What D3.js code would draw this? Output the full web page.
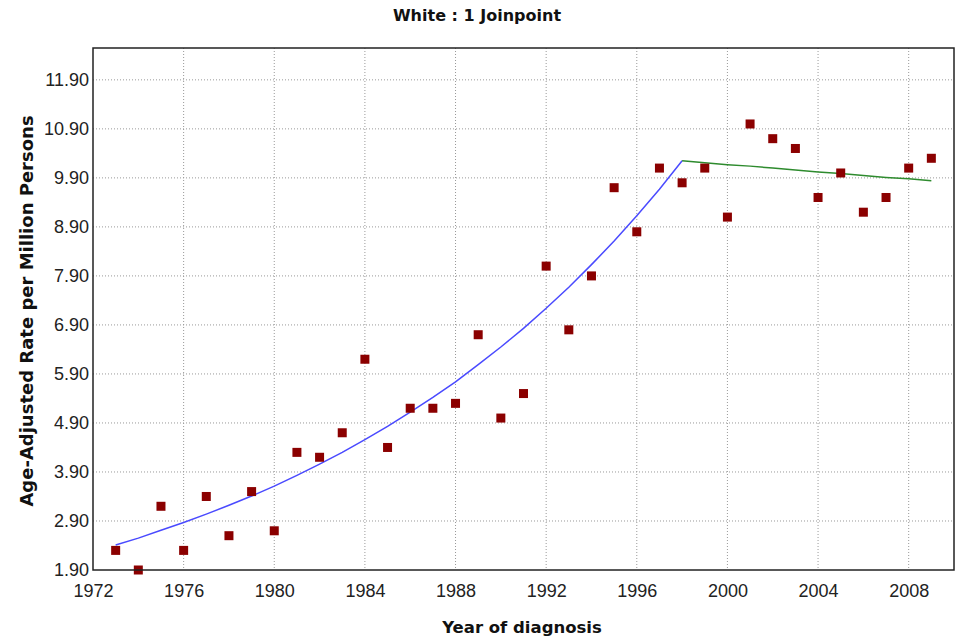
<!DOCTYPE html>
<html>
<head>
<meta charset="utf-8">
<script src="https://cdn.jsdelivr.net/npm/d3@7"></script>
<style>
	body { margin: 0; background: #fff; }
	.tick text { font-family: "Liberation Sans Narrow", "Arial Narrow", "Liberation Sans", sans-serif; font-size: 18px; fill: #222; }
	.ttl { font-family: "DejaVu Sans", Verdana, sans-serif; font-weight: bold; fill: #111; }
</style>
</head>
<body>
<script>
var svgWidth = 961,
	svgHeight = 638,
	margin = {top: 48, right: 7, bottom: 68, left: 93};

// observed rates
var years = [1973,1974,1975,1976,1977,1978,1979,1980,1981,1982,1983,1984,1985,1986,1987,1988,1989,1990,1991,
	1992,1993,1994,1995,1996,1997,1998,1999,2000,2001,2002,2003,2004,2005,2006,2007,2008,2009];
var rates = [2.3,1.9,3.2,2.3,3.4,2.6,3.5,2.7,4.3,4.2,4.7,6.2,4.4,5.2,5.2,5.3,6.7,5.0,5.5,
	8.1,6.8,7.9,9.7,8.8,10.1,9.8,10.1,9.1,11.0,10.7,10.5,9.5,10.0,9.2,9.5,10.1,10.3];

// fitted segments
var seg1Years = [1973,1974,1975,1976,1977,1978,1979,1980,1981,1982,1983,1984,1985,1986,1987,1988,1989,1990,1991,1992,1993,1994,1995,1996,1997,1998];
var seg1Fit = [2.41,2.55,2.71,2.87,3.04,3.22,3.41,3.61,3.83,4.06,4.30,4.56,4.83,5.12,5.42,5.74,6.09,6.45,6.83,7.24,7.67,8.13,8.61,9.13,9.67,10.25];
var seg2Years = [1998,1999,2000,2001,2002,2003,2004,2005,2006,2007,2008,2009];
var seg2Fit = [10.25,10.21,10.17,10.14,10.10,10.06,10.02,9.99,9.95,9.91,9.88,9.84];

var xTicks = [1972,1976,1980,1984,1988,1992,1996,2000,2004,2008];
var yTicks = [1.9,2.9,3.9,4.9,5.9,6.9,7.9,8.9,9.9,10.9,11.9];

var w = svgWidth - margin.left - margin.right,
	h = svgHeight - margin.top - margin.bottom;

var svg = d3.select("body").append("svg")
	.attr("width", svgWidth)
	.attr("height", svgHeight);

var x = d3.scaleLinear().domain([1972, 2010]).range([0, w]);
var y = d3.scaleLinear().domain([1.9, 12.55]).range([h, 0]);

var g = svg.append("g").attr("transform", "translate(" + margin.left + "," + margin.top + ")");

// grid
g.append("g").selectAll("line.vg").data(xTicks.slice(1)).enter().append("line")
	.attr("x1", function(d) { return x(d); })
	.attr("x2", function(d) { return x(d); })
	.attr("y1", 0).attr("y2", h)
	.attr("stroke", "#999").attr("stroke-dasharray", "1,2");
g.append("g").selectAll("line.hg").data(yTicks.slice(1)).enter().append("line")
	.attr("y1", function(d) { return y(d); })
	.attr("y2", function(d) { return y(d); })
	.attr("x1", 0).attr("x2", w)
	.attr("stroke", "#999").attr("stroke-dasharray", "1,2");

// axes
var xAxis = g.append("g").attr("transform", "translate(0," + h + ")")
	.call(d3.axisBottom(x).tickValues(xTicks).tickFormat(d3.format("d")).tickSize(0).tickPadding(14));
var yAxis = g.append("g")
	.call(d3.axisLeft(y).tickValues(yTicks).tickFormat(d3.format(".2f")).tickSize(0).tickPadding(4));
xAxis.select(".domain").remove();
yAxis.select(".domain").remove();

// fitted lines
var line = d3.line()
	.x(function(d) { return x(d[0]); })
	.y(function(d) { return y(d[1]); });

g.append("path")
	.datum(d3.zip(seg1Years, seg1Fit))
	.attr("d", line)
	.attr("fill", "none")
	.attr("stroke", "#4a4aff")
	.attr("stroke-width", 1.5);

g.append("path")
	.datum(d3.zip(seg2Years, seg2Fit))
	.attr("d", line)
	.attr("fill", "none")
	.attr("stroke", "#2e8b2e")
	.attr("stroke-width", 1.5);

// observed points
var sz = 9;
g.append("g").selectAll("rect").data(d3.zip(years, rates)).enter().append("rect")
	.attr("x", function(d) { return x(d[0]) - sz/2; })
	.attr("y", function(d) { return y(d[1]) - sz/2; })
	.attr("width", sz).attr("height", sz)
	.attr("fill", "#8b0000");

// frame
g.append("rect")
	.attr("width", w).attr("height", h)
	.attr("fill", "none")
	.attr("stroke", "#222")
	.attr("stroke-width", 1.5);

// titles
svg.append("text").attr("class", "ttl")
	.attr("x", 477).attr("y", 21)
	.attr("text-anchor", "middle")
	.style("font-size", "16px")
	.text("White : 1 Joinpoint");

svg.append("text").attr("class", "ttl")
	.attr("x", 522).attr("y", 633)
	.attr("text-anchor", "middle")
	.style("font-size", "16.5px")
	.text("Year of diagnosis");

svg.append("text").attr("class", "ttl")
	.attr("transform", "translate(33,311) rotate(-90)")
	.attr("text-anchor", "middle")
	.style("font-size", "18px")
	.text("Age-Adjusted Rate per Million Persons");
</script>
</body>
</html>
